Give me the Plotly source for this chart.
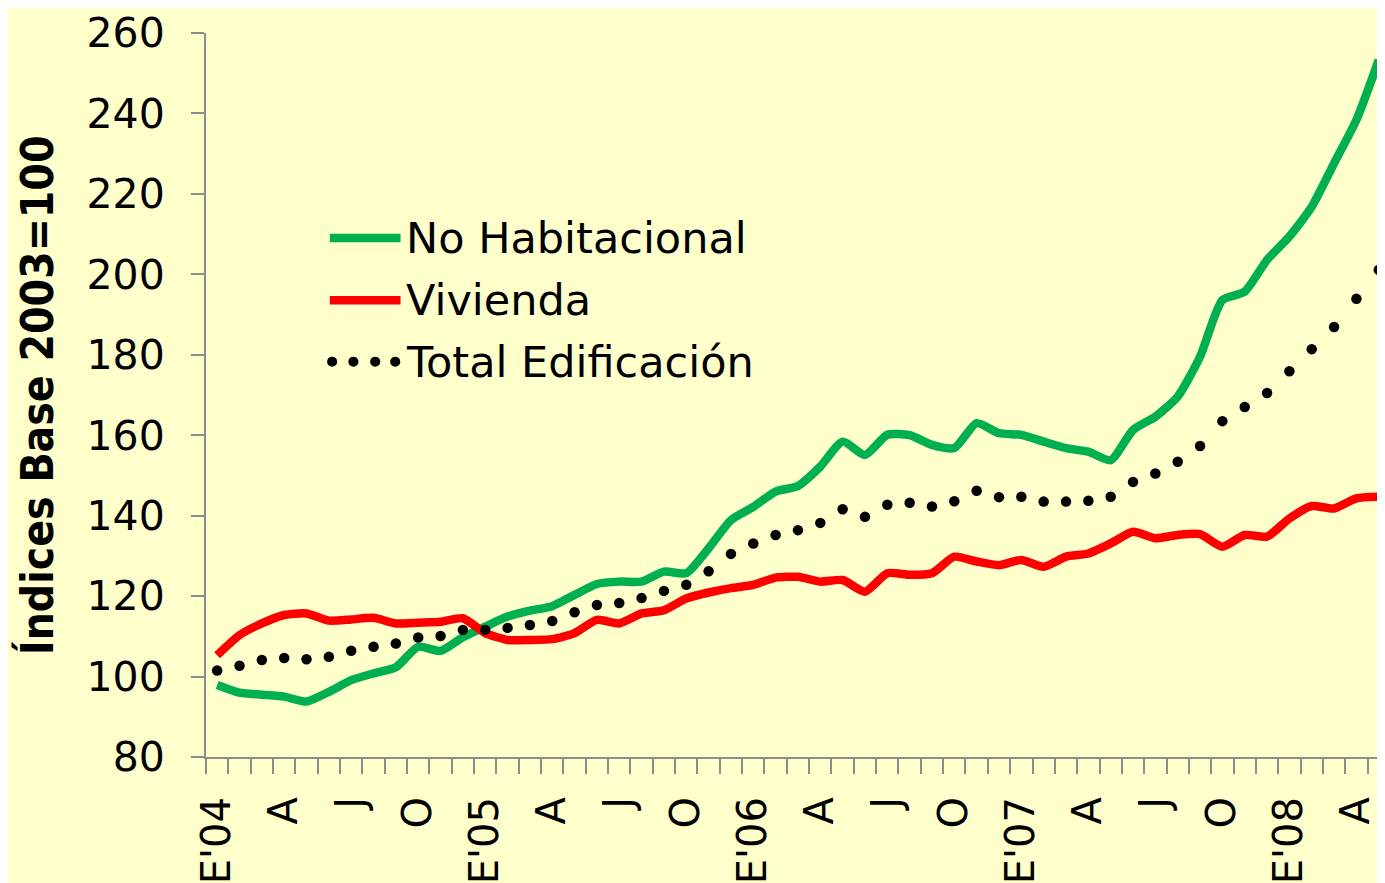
import plotly.graph_objects as go

# monthly index, Jan 2004 .. May 2008
months = list(range(53))
tick_pos = list(range(0, 53, 3))
tick_text = ["E'04", "A", "J", "O", "E'05", "A", "J", "O", "E'06", "A", "J", "O",
             "E'07", "A", "J", "O", "E'08", "A"]

no_habitacional = [97.9, 96.0, 95.5, 95.0, 93.8, 96.2, 99.1, 100.8, 102.3, 107.4,
                   106.4, 109.8, 112.4, 114.9, 116.4, 117.5, 120.3, 123.0, 123.6, 123.6,
                   126.1, 125.7, 131.9, 138.9, 142.2, 146.0, 147.4, 152.2, 158.4, 155.1,
                   160.1, 160.0, 157.6, 156.8, 163.0, 160.5, 160.1, 158.4, 156.8, 155.9,
                   153.8, 161.3, 164.6, 169.6, 179.5, 193.6, 195.7, 203.6, 209.4, 216.8,
                   227.6, 238.4, 253.3]

vivienda = [105.3, 110.3, 113.2, 115.3, 115.7, 113.9, 114.2, 114.6, 113.2, 113.4,
            113.6, 114.5, 110.8, 109.1, 109.1, 109.3, 110.8, 114.1, 113.2, 115.7,
            116.5, 119.4, 120.9, 122.0, 122.8, 124.6, 124.8, 123.6, 124.0, 121.1,
            125.7, 125.3, 125.7, 129.8, 128.6, 127.7, 129.0, 127.3, 129.8, 130.6,
            133.1, 136.0, 134.4, 135.2, 135.4, 132.3, 135.2, 134.8, 139.3, 142.4,
            141.8, 144.3, 144.7]

total = [101.5, 102.7, 104.1, 104.6, 104.3, 104.9, 106.4, 107.4, 108.2, 109.7,
         110.1, 111.6, 111.6, 112.1, 112.8, 113.8, 116.0, 117.8, 118.3, 119.5,
         121.3, 122.8, 126.2, 130.5, 133.1, 135.2, 136.4, 138.2, 141.6, 139.7,
         142.7, 143.2, 142.3, 143.6, 146.2, 144.6, 144.7, 143.5, 143.5, 143.7,
         144.7, 148.4, 150.5, 153.4, 157.3, 163.5, 167.0, 170.5, 175.9, 181.4,
         186.9, 193.9, 201.1]

GREEN = "#00B050"
RED = "#FF0000"
BG = "#FFFFCC"
AXIS = "#8C8C8C"

fig = go.Figure()
fig.add_trace(go.Scatter(x=months, y=no_habitacional, mode="lines", name="No Habitacional",
                         line=dict(color=GREEN, width=8.5, shape="spline", smoothing=0.6),
                         showlegend=False))
fig.add_trace(go.Scatter(x=months, y=vivienda, mode="lines", name="Vivienda",
                         line=dict(color=RED, width=8.5, shape="spline", smoothing=0.6),
                         showlegend=False))
fig.add_trace(go.Scatter(x=months, y=total, mode="markers", name="Total Edificación",
                         marker=dict(color="black", size=10.5), showlegend=False))

# hand-made legend, like the original chart
leg_x0, leg_x1 = 0.105, 0.165
leg_rows = [(0.717, "No Habitacional", GREEN), (0.631, "Vivienda", RED),
            (0.546, "Total Edificación", None)]
for y, label, color in leg_rows:
    if color:
        fig.add_shape(type="line", xref="paper", yref="paper", x0=leg_x0, x1=leg_x1,
                      y0=y, y1=y, line=dict(color=color, width=8.5))
    else:
        for cx in [0.107, 0.125, 0.1435, 0.1605]:
            fig.add_shape(type="circle", xref="paper", yref="paper",
                          x0=cx - 0.0043, x1=cx + 0.0043, y0=y - 0.007, y1=y + 0.007,
                          fillcolor="black", line=dict(width=0))
    fig.add_annotation(x=0.168, y=y, xref="paper", yref="paper", text=label,
                       showarrow=False, xanchor="left", yanchor="middle",
                       font=dict(family="DejaVu Sans", size=43, color="black"))

fig.add_annotation(x=-0.1433, y=0.5, xref="paper", yref="paper",
                   text="<b>Índices Base 2003=100</b>", textangle=-90, showarrow=False,
                   xanchor="center", yanchor="middle",
                   font=dict(family="DejaVu Sans Condensed", size=44, color="black"))

fig.update_xaxes(range=[-0.5, 52.28], tickmode="array", tickvals=tick_pos, ticktext=tick_text,
                 tickangle=-90, ticks="", showgrid=False, zeroline=False,
                 showline=True, linecolor=AXIS, linewidth=2,
                 tickfont=dict(family="DejaVu Sans", size=40, color="black"),
                 ticklabelstandoff=22,
                 minor=dict(ticks="outside", tick0=-0.5, dtick=1, ticklen=15,
                            tickcolor=AXIS, tickwidth=2, showgrid=False))
fig.update_yaxes(range=[80, 260], dtick=20, ticks="outside", ticklen=13, tickcolor=AXIS,
                 tickwidth=2, showgrid=False, zeroline=False, showline=True,
                 linecolor=AXIS, linewidth=2, ticklabelstandoff=18,
                 tickfont=dict(family="DejaVu Sans", size=41, color="black"))

# the page adds an 8px body margin, so the figure is 8px smaller than the window
fig.update_layout(width=1377, height=875, paper_bgcolor=BG, plot_bgcolor=BG,
                  margin=dict(l=198, r=0, t=25, b=126))

fig.write_html("out.html")
